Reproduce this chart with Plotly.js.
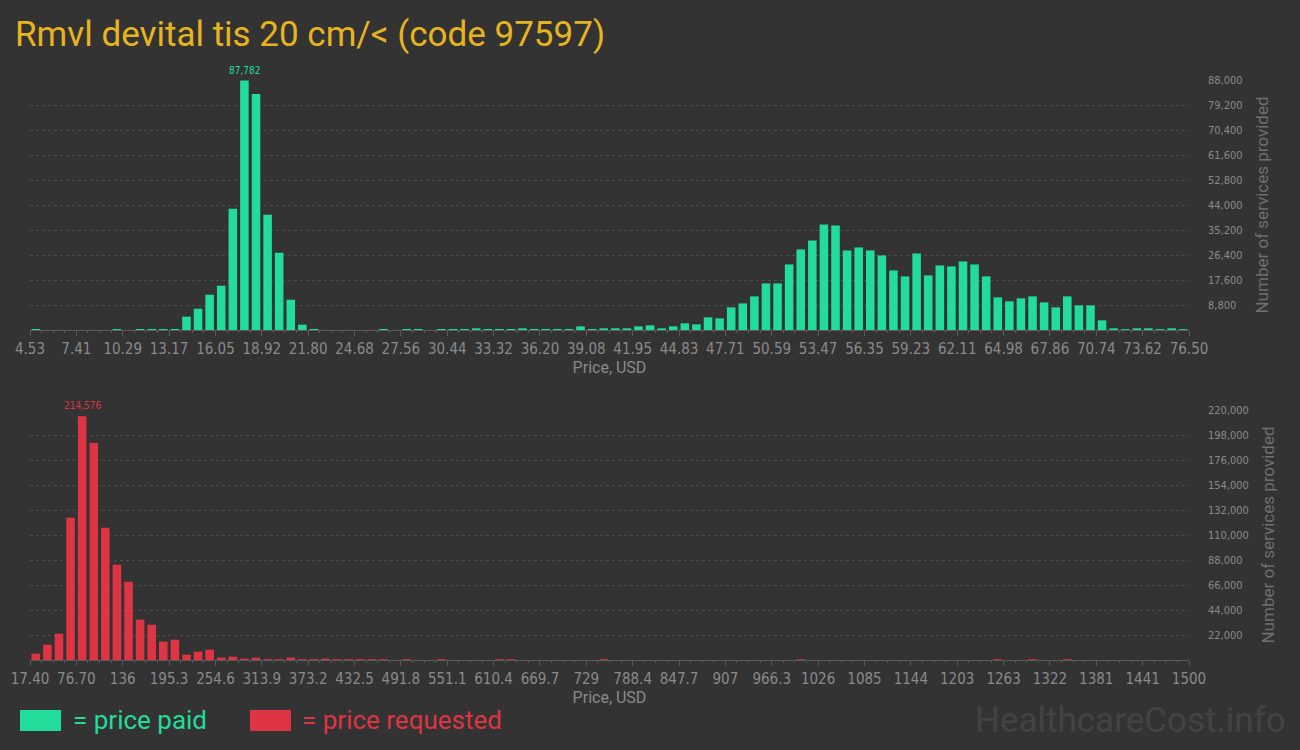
<!DOCTYPE html>
<html>
<head>
<meta charset="utf-8">
<script src="https://cdn.plot.ly/plotly-3.0.1.min.js"></script>
<style>
  html, body { margin: 0; padding: 0; background: #333333; }
  #chart { width: 1300px; height: 750px; }
</style>
</head>
<body>
<div id="chart"></div>
<script>
// ---- Data ----
const chartTitle = 'Rmvl devital tis 20 cm/< (code 97597)';

// price paid: 100 bins between 4.53 and 76.50 USD
const paidTickLabels = ['4.53','7.41','10.29','13.17','16.05','18.92','21.80','24.68','27.56','30.44','33.32','36.20','39.08','41.95','44.83','47.71','50.59','53.47','56.35','59.23','62.11','64.98','67.86','70.74','73.62','76.50'];
const paidValues = [
  350, 0, 0, 0, 0, 0, 0, 350, 0, 350,
  350, 350, 350, 4690, 7500, 12420, 15590, 42650, 87782, 83080,
  40540, 27190, 10660, 1880, 350, 0, 0, 0, 0, 0,
  350, 0, 350, 350, 0, 350, 350, 350, 590, 350,
  350, 350, 590, 350, 350, 350, 350, 1290, 350, 590,
  590, 590, 1290, 1640, 590, 1290, 2340, 2000, 4450, 4100,
  7970, 9370, 11830, 16400, 16400, 23080, 28350, 31520, 37150, 36790,
  28000, 29060, 28000, 26240, 20970, 18870, 26950, 19220, 22730, 22380,
  24140, 23080, 18870, 11480, 10080, 11130, 11830, 9720, 7970, 11830,
  8670, 8670, 3400, 590, 300, 590, 590, 300, 590, 300
];
const paidYTicks = [8800, 17600, 26400, 35200, 44000, 52800, 61600, 70400, 79200, 88000];

// price requested: 100 bins between 17.40 and 1500 USD
const reqTickLabels = ['17.40','76.70','136','195.3','254.6','313.9','373.2','432.5','491.8','551.1','610.4','669.7','729','788.4','847.7','907','966.3','1026','1085','1144','1203','1263','1322','1381','1441','1500'];
const reqValues = [
  5570, 13480, 23140, 125090, 214576, 191000, 116300, 83780, 68840, 35450,
  31050, 16110, 17870, 4690, 7320, 9080, 2050, 2930, 1170, 2050,
  700, 700, 2050, 700, 700, 1170, 700, 700, 700, 700,
  700, 0, 700, 0, 0, 700, 0, 0, 0, 0,
  700, 700, 0, 0, 0, 0, 0, 0, 0, 700,
  0, 0, 0, 0, 0, 0, 0, 0, 0, 0,
  0, 0, 0, 0, 0, 0, 700, 0, 0, 0,
  0, 0, 0, 0, 0, 0, 0, 0, 0, 0,
  0, 0, 0, 700, 0, 0, 700, 0, 0, 700,
  0, 0, 0, 0, 0, 0, 0, 0, 0, 0
];
const reqYTicks = [22000, 44000, 66000, 88000, 110000, 132000, 154000, 176000, 198000, 220000];

const seriesNames = ['= price paid', '= price requested'];
const colors = { paid: '#21dc9a', req: '#de3444', title: '#e8b41e', bg: '#333333', tick: '#8a8a8a', grid: '#4c4c4c', axis: '#5a5a5a', mark: '#434343' };

// ---- Build ----
const binsPerTick = 4;
function binCenters(n) { return Array.from({length: n}, (_, i) => i + 0.5); }
function tickVals(labels) { return labels.map((_, k) => k * binsPerTick); }

const tickFont = { family: '"Liberation Sans Narrow", "DejaVu Sans Condensed", Roboto, sans-serif', size: 15, color: colors.tick };
const yTickFont = { family: '"Liberation Sans Narrow", "DejaVu Sans Condensed", Roboto, sans-serif', size: 11, color: colors.tick };

const xDomain = [30 / 1300, 1189 / 1300];

function xAxis(labels, anchor) {
  return {
    domain: xDomain, anchor: anchor,
    range: [0, paidValues.length],
    tickmode: 'array', tickvals: tickVals(labels), ticktext: labels,
    ticks: 'outside', ticklen: 5, tickcolor: colors.axis, tickwidth: 1,
    minor: { dtick: 1, tick0: 0, ticks: 'outside', ticklen: 2, tickcolor: colors.axis, showgrid: false },
    showline: true, linecolor: colors.axis, linewidth: 1,
    showgrid: false, zeroline: false,
    tickfont: tickFont,
    title: { text: 'Price, USD', font: { family: 'Roboto, sans-serif', size: 16, color: colors.tick }, standoff: 4 },
    fixedrange: true
  };
}
function yAxis(ticks, domain, anchor) {
  return {
    domain: domain, anchor: anchor, side: 'right',
    range: [0, ticks[ticks.length - 1]],
    tickmode: 'array', tickvals: ticks, tickformat: ',d',
    showgrid: true, gridcolor: colors.grid, griddash: 'dot', gridwidth: 1,
    zeroline: false, showline: false, ticks: '',
    ticklabelstandoff: 18,
    tickfont: yTickFont,
    title: { text: 'Number of services provided', font: { family: 'Roboto, sans-serif', size: 17, color: '#6f6f6f' }, standoff: 14 },
    fixedrange: true
  };
}

function peakAnnotation(values, xref, yref, color) {
  const m = Math.max(...values);
  const i = values.indexOf(m);
  return {
    x: i + 0.5, y: m, xref: xref, yref: yref, yanchor: 'bottom', yshift: 3,
    text: m.toLocaleString('en-US'), showarrow: false,
    font: { family: '"Liberation Sans Narrow", "DejaVu Sans Condensed", Roboto, sans-serif', size: 10, color: color }
  };
}

const traces = [
  { type: 'bar', x: binCenters(paidValues.length), y: paidValues, xaxis: 'x', yaxis: 'y',
    marker: { color: colors.paid }, name: seriesNames[0], hoverinfo: 'y', cliponaxis: false },
  { type: 'bar', x: binCenters(reqValues.length), y: reqValues, xaxis: 'x2', yaxis: 'y2',
    marker: { color: colors.req }, name: seriesNames[1], hoverinfo: 'y', cliponaxis: false }
];

const layout = {
  width: 1300, height: 750,
  margin: { l: 0, r: 0, t: 0, b: 0 },
  paper_bgcolor: colors.bg, plot_bgcolor: colors.bg,
  showlegend: false, bargap: 0.26,
  title: { text: chartTitle, x: 15 / 1300, xanchor: 'left', xref: 'paper', y: 1 - 34 / 750, yanchor: 'middle', yref: 'paper',
           font: { family: 'Roboto, sans-serif', size: 35, color: colors.title } },
  xaxis: xAxis(paidTickLabels, 'y'),
  yaxis: yAxis(paidYTicks, [1 - 330 / 750, 1 - 80 / 750], 'x'),
  xaxis2: xAxis(reqTickLabels, 'y2'),
  yaxis2: yAxis(reqYTicks, [1 - 660 / 750, 1 - 410 / 750], 'x2'),
  shapes: [
    { type: 'rect', xref: 'paper', yref: 'paper', x0: 20 / 1300, x1: 61 / 1300, y0: 1 - 731 / 750, y1: 1 - 710 / 750, fillcolor: colors.paid, line: { width: 0 } },
    { type: 'rect', xref: 'paper', yref: 'paper', x0: 250 / 1300, x1: 291 / 1300, y0: 1 - 731 / 750, y1: 1 - 710 / 750, fillcolor: colors.req, line: { width: 0 } }
  ],
  annotations: [
    peakAnnotation(paidValues, 'x', 'y', colors.paid),
    peakAnnotation(reqValues, 'x2', 'y2', colors.req),
    { x: 71 / 1300, y: 1 - 720 / 750, xref: 'paper', yref: 'paper', xanchor: 'left', yanchor: 'middle', showarrow: false,
      text: seriesNames[0], font: { family: 'Roboto, sans-serif', size: 26, color: colors.paid } },
    { x: 300 / 1300, y: 1 - 720 / 750, xref: 'paper', yref: 'paper', xanchor: 'left', yanchor: 'middle', showarrow: false,
      text: seriesNames[1], font: { family: 'Roboto, sans-serif', size: 26, color: colors.req } },
    { x: 1288 / 1300, y: 1 - 720 / 750, xref: 'paper', yref: 'paper', xanchor: 'right', yanchor: 'middle', showarrow: false,
      text: 'HealthcareCost.info', font: { family: 'Roboto, sans-serif', size: 35, color: colors.mark } }
  ]
};

Plotly.newPlot('chart', traces, layout, { displayModeBar: false, staticPlot: true });
</script>
</body>
</html>
